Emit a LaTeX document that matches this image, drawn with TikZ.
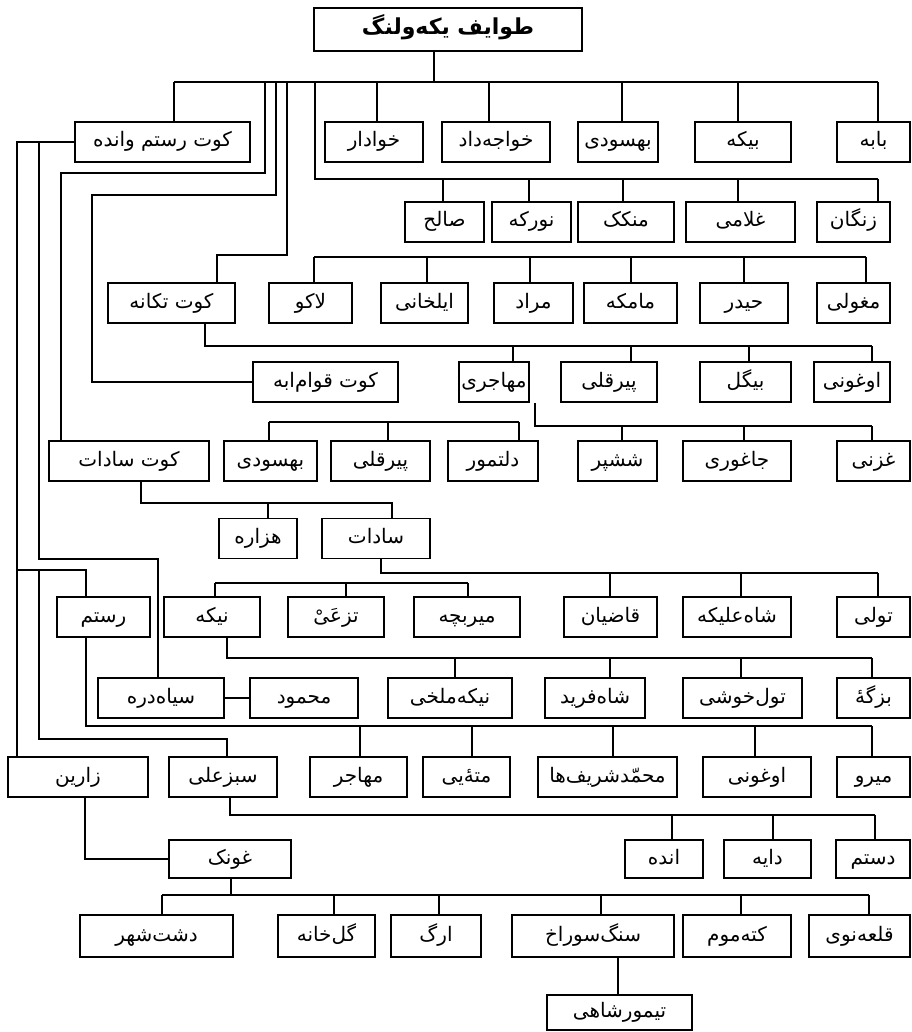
\documentclass[tikz,border=0pt]{standalone}
\usepackage{fontspec}
\TeXXeTstate=1
\newfontfamily\fafont[Script=Arabic]{DejaVu Sans}
\newcommand{\fatxt}[1]{\fafont\beginR #1\endR}
\tikzset{
  tribe/.style={
    draw,
    line width=0.8pt,
    inner sep=0pt,
    minimum height=20pt,
    text height=7.5pt,
    text depth=2.5pt,
    font=\fontsize{10}{12}\selectfont
  },
  link/.style={
    line width=0.6pt
  }
}
\begin{document}
\begin{tikzpicture}[x=0.5pt,y=-0.5pt]
  \useasboundingbox (0,0) rectangle (911,1032);
  \node[tribe,minimum width=134pt,minimum height=21.5pt,font=\fontsize{11}{13}\selectfont\bfseries] (root) at (448,29.5) {\fatxt{طوایف یکه‌ولنگ}};
  \foreach \n/\a/\b/\t in {krv/75/250/کوت رستم وانده, khodadar/325/423/خوادار, khajedad/442/550/خواجه‌داد, behsudiA/578/658/بهسودی, bike/695/791/بیکه, babe/837/910/بابه}
    \node[tribe,minimum width={(\b-\a)*0.5pt}] (\n) at ({(\a+\b)/2},142) {\fatxt{\t}};
  \foreach \n/\a/\b/\t in {saleh/405/484/صالح, nurke/492/571/نورکه, menkak/578/674/منکک, gholami/686/795/غلامی, zangan/817/890/زنگان}
    \node[tribe,minimum width={(\b-\a)*0.5pt}] (\n) at ({(\a+\b)/2},222) {\fatxt{\t}};
  \foreach \n/\a/\b/\t in {kt/108/235/کوت تکانه, lako/269/352/لاکو, ilkhani/381/468/ایلخانی, morad/494/573/مراد, mamke/584/677/مامکه, heydar/700/788/حیدر, mogholi/817/890/مغولی}
    \node[tribe,minimum width={(\b-\a)*0.5pt}] (\n) at ({(\a+\b)/2},303) {\fatxt{\t}};
  \foreach \n/\a/\b/\t in {kq/253/398/کوت قوام‌ابه, mohajeri/459/529/مهاجری, pirqoliA/561/657/پیرقلی, bigol/700/791/بیگل, oghuniA/814/890/اوغونی}
    \node[tribe,minimum width={(\b-\a)*0.5pt}] (\n) at ({(\a+\b)/2},382) {\fatxt{\t}};
  \foreach \n/\a/\b/\t in {ks/49/209/کوت سادات, behsudiB/224/317/بهسودی, pirqoliB/331/430/پیرقلی, daltamur/448/538/دلتمور, shashpar/578/657/ششپر, jaghori/683/791/جاغوری, ghazni/837/910/غزنی}
    \node[tribe,minimum width={(\b-\a)*0.5pt}] (\n) at ({(\a+\b)/2},461) {\fatxt{\t}};
  \foreach \n/\a/\b/\t in {hazare/219/297/هزاره, sadat/322/430/سادات}
    \node[tribe,minimum width={(\b-\a)*0.5pt}] (\n) at ({(\a+\b)/2},538.5) {\fatxt{\t}};
  \foreach \n/\a/\b/\t in {rostam/57/150/رستم, nike/164/260/نیکه, tazghi/288/384/تزعَیْ, miribche/414/520/میربچه, qaziyan/564/657/قاضیان, shahalike/683/791/شاه‌علیکه, tuli/837/910/تولی}
    \node[tribe,minimum width={(\b-\a)*0.5pt}] (\n) at ({(\a+\b)/2},617) {\fatxt{\t}};
  \foreach \n/\a/\b/\t in {siyahdare/98/224/سیاه‌دره, mahmud/250/358/محمود, nikemalkhi/388/512/نیکه‌ملخی, shahfarid/545/645/شاه‌فرید, tulkhoshi/683/802/تول‌خوشی, bozge/837/910/بزگهٔ}
    \node[tribe,minimum width={(\b-\a)*0.5pt}] (\n) at ({(\a+\b)/2},698) {\fatxt{\t}};
  \foreach \n/\a/\b/\t in {zarin/8/148/زارین, sabzali/169/277/سبزعلی, mohajer/310/407/مهاجر, matayi/423/510/متهٔ‌یی, msharif/538/677/محمّدشریف‌ها, oghuniB/703/811/اوغونی, miru/837/910/میرو}
    \node[tribe,minimum width={(\b-\a)*0.5pt}] (\n) at ({(\a+\b)/2},777) {\fatxt{\t}};
  \foreach \n/\a/\b/\t in {ghunak/169/291/غونک, ande/625/703/انده, daye/724/811/دایه, dastam/836/910/دستم}
    \node[tribe,minimum width={(\b-\a)*0.5pt},minimum height=19pt] (\n) at ({(\a+\b)/2},859) {\fatxt{\t}};
  \foreach \n/\a/\b/\t in {dashtshahr/80/233/دشت‌شهر, golkhane/278/375/گل‌خانه, arg/391/481/ارگ, sangsurakh/512/674/سنگ‌سوراخ, katamum/683/791/کته‌موم, qalenow/809/910/قلعه‌نوی}
    \node[tribe,minimum width={(\b-\a)*0.5pt},minimum height=21pt] (\n) at ({(\a+\b)/2},936) {\fatxt{\t}};
  \node[tribe,minimum width=72.5pt,minimum height=17.5pt] (teymurshahi) at (619.5,1012.5) {\fatxt{تیمورشاهی}};

  \draw[link] (root.south -| 434,0) -- (434,82);
  \draw[link] (174,82) -- (878,82);
  \foreach \n/\x in {krv/174, khodadar/377, khajedad/489, behsudiA/622, bike/738, babe/878}
    \draw[link] (\x,82) -- (\n.north -| \x,0);
  \draw[link] (265,82) -- (265,173) -- (61,173) -- (ks.north -| 61,0);
  \draw[link] (276,82) -- (276,195) -- (92,195) |- (kq.west);
  \draw[link] (287,82) -- (287,255) -- (217,255) -- (kt.north -| 217,0);
  \draw[link] (315,82) -- (315,179) -- (878,179);
  \foreach \n/\x in {saleh/443, nurke/529, menkak/623, gholami/738, zangan/878}
    \draw[link] (\x,179) -- (\n.north -| \x,0);
  \draw[link] (314,257) -- (866,257);
  \foreach \n/\x in {lako/314, ilkhani/427, morad/530, mamke/631, heydar/744, mogholi/866}
    \draw[link] (\x,257) -- (\n.north -| \x,0);
  \draw[link] (kt.south -| 205,0) |- (872,346);
  \foreach \n/\x in {mohajeri/513, pirqoliA/631, bigol/749, oghuniA/872}
    \draw[link] (\x,346) -- (\n.north -| \x,0);
  \draw[link] (mohajeri.south -| 535,0) |- (872,426);
  \foreach \n/\x in {shashpar/622, jaghori/744, ghazni/872}
    \draw[link] (\x,426) -- (\n.north -| \x,0);
  \draw[link] (269,422) -- (519,422);
  \foreach \n/\x in {behsudiB/269, pirqoliB/388, daltamur/519}
    \draw[link] (\x,422) -- (\n.north -| \x,0);
  \draw[link] (ks.south -| 141,0) |- (392,503) -- (sadat.north -| 392,0);
  \draw[link] (268,503) -- (hazare.north -| 268,0);
  \draw[link] (sadat.south -| 381,0) |- (878,573);
  \foreach \n/\x in {qaziyan/610, shahalike/741, tuli/878}
    \draw[link] (\x,573) -- (\n.north -| \x,0);
  \draw[link] (215,583) -- (468,583);
  \foreach \n/\x in {nike/215, tazghi/346, miribche/468}
    \draw[link] (\x,583) -- (\n.north -| \x,0);
  \draw[link] (nike.south -| 227,0) |- (872,658);
  \foreach \n/\x in {nikemalkhi/455, shahfarid/610, tulkhoshi/741, bozge/872}
    \draw[link] (\x,658) -- (\n.north -| \x,0);
  \draw[link] (krv.west) -- (17,142) -- (zarin.north -| 17,0);
  \draw[link] (39,142) -- (39,559) -- (158,559) -- (siyahdare.north -| 158,0);
  \draw[link] (17,570) -- (86,570) -- (rostam.north -| 86,0);
  \draw[link] (39,570) -- (39,739) -- (227,739) -- (sabzali.north -| 227,0);
  \draw[link] (siyahdare.east) -- (mahmud.west);
  \draw[link] (rostam.south -| 86,0) |- (872,726);
  \foreach \n/\x in {mohajer/360, matayi/472, msharif/613, oghuniB/755, miru/872}
    \draw[link] (\x,726) -- (\n.north -| \x,0);
  \draw[link] (sabzali.south -| 230,0) |- (875,815);
  \foreach \n/\x in {ande/672, daye/773, dastam/875}
    \draw[link] (\x,815) -- (\n.north -| \x,0);
  \draw[link] (zarin.south -| 85,0) |- (ghunak.west);
  \draw[link] (ghunak.south -| 231,0) -- (231,895);
  \draw[link] (162,895) -- (869,895);
  \foreach \n/\x in {dashtshahr/162, golkhane/334, arg/439, sangsurakh/601, katamum/741, qalenow/869}
    \draw[link] (\x,895) -- (\n.north -| \x,0);
  \draw[link] (sangsurakh.south -| 618,0) -- (teymurshahi.north -| 618,0);
\end{tikzpicture}
\end{document}
